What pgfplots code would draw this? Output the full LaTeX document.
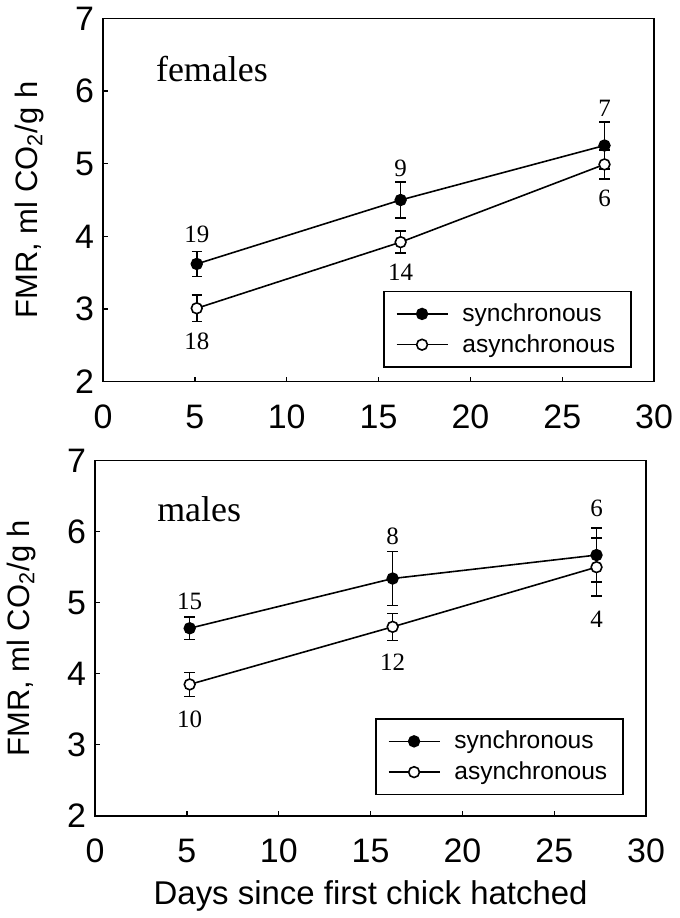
\documentclass[border=0pt]{standalone}
\usepackage{fontspec}
\setmainfont{Liberation Sans}
\newfontfamily\timesfont{Liberation Serif}
\usepackage{pgfplots}
\pgfplotsset{compat=1.18}

\tikzset{num/.style={font=\timesfont\fontsize{12.5}{12.5}\selectfont}}
\pgfplotsset{
  fmr/.style={
    scale only axis, width=276pt,
    xmin=0, xmax=30, ymin=2, ymax=7,
    xtick={0,5,...,30}, ytick={2,...,7},
    xtick pos=bottom, ytick pos=left,
    tick align=inside, major tick length=2.5pt,
    axis line style={line width=0.8pt},
    tick style={line width=0.6pt, black},
    tick label style={font=\fontsize{17}{17}\selectfont},
    /pgf/number format/assume math mode=true,
    xticklabel style={yshift=-8pt},
    yticklabel style={xshift=-1pt},
    ylabel={FMR, ml CO\textsubscript{2}/g h},
    ylabel style={font=\fontsize{15.5}{15.5}\selectfont, yshift=9pt},
    legend cell align=left,
    legend image code/.code={\draw[mark repeat=2,mark phase=2] plot coordinates {(0cm,0cm) (0.45cm,0cm) (0.9cm,0cm)};},
    legend style={draw=black, line width=0.8pt, fill=white,
      font=\fontsize{12.3}{15}\selectfont, inner xsep=6pt, inner ysep=4pt,
      row sep=1pt, /tikz/every odd column/.append style={column sep=5pt}},
  },
  sync/.style={black, line width=0.8pt, mark=*, mark size=2.7pt,
    mark options={fill=black, solid},
    error bars/.cd, y dir=both, y explicit,
    error bar style={line width=0.8pt},
    error mark options={rotate=90, mark size=2.6pt, line width=0.8pt}},
  async/.style={black, line width=0.8pt, mark=*, mark size=2.7pt,
    mark options={fill=white, solid},
    error bars/.cd, y dir=both, y explicit,
    error bar style={line width=0.8pt},
    error mark options={rotate=90, mark size=2.6pt, line width=0.8pt}},
}

\begin{document}
\begin{tikzpicture}
% females
\begin{axis}[fmr, height=182pt,
  legend style={at={(axis cs:28.8,2.19)}, anchor=south east}]
  \addplot[sync] coordinates {(5.1,3.62) +- (0,0.17) (16.2,4.50) +- (0,0.25) (27.3,5.25) +- (0,0.32)};
  \addlegendentry{synchronous}
  \addplot[async] coordinates {(5.1,3.01) +- (0,0.18) (16.2,3.92) +- (0,0.15) (27.3,4.99) +- (0,0.20)};
  \addlegendentry{asynchronous}
  \node[num] at (axis cs:5.1,4.03) {19};
  \node[num] at (axis cs:5.1,2.56) {18};
  \node[num] at (axis cs:16.2,4.93) {9};
  \node[num] at (axis cs:16.2,3.50) {14};
  \node[num] at (axis cs:27.3,5.76) {7};
  \node[num] at (axis cs:27.3,4.52) {6};
  \node[font=\timesfont\fontsize{18}{18}\selectfont, anchor=west] at (axis cs:2.5,6.3) {females};
\end{axis}
% males
\begin{axis}[fmr, height=178pt, at={(-4pt,-217.5pt)},
  xlabel={Days since first chick hatched},
  xlabel style={font=\fontsize{16.5}{16.5}\selectfont, yshift=-2pt},
  legend style={at={(axis cs:28.8,2.29)}, anchor=south east}]
  \addplot[sync] coordinates {(5.15,4.64) +- (0,0.16) (16.2,5.34) +- (0,0.38) (27.3,5.67) +- (0,0.38)};
  \addlegendentry{synchronous}
  \addplot[async] coordinates {(5.15,3.85) +- (0,0.17) (16.2,4.66) +- (0,0.19) (27.3,5.50) +- (0,0.41)};
  \addlegendentry{asynchronous}
  \node[num] at (axis cs:5.15,5.02) {15};
  \node[num] at (axis cs:5.15,3.36) {10};
  \node[num] at (axis cs:16.2,5.93) {8};
  \node[num] at (axis cs:16.2,4.16) {12};
  \node[num] at (axis cs:27.3,6.33) {6};
  \node[num] at (axis cs:27.3,4.77) {4};
  \node[font=\timesfont\fontsize{18}{18}\selectfont, anchor=west] at (axis cs:3.0,6.31) {males};
\end{axis}
\end{tikzpicture}
\end{document}
